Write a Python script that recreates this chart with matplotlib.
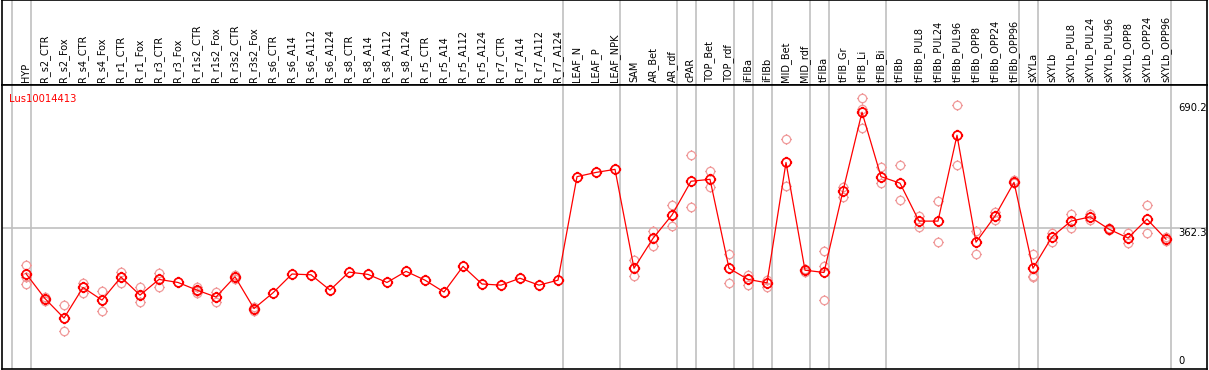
import matplotlib
matplotlib.use("Agg")
import matplotlib.pyplot as plt
from matplotlib.path import Path
import numpy as np

labels = ["HYP",
    "R_s2_CTR", "R_s2_Fox", "R_s4_CTR", "R_s4_Fox", "R_r1_CTR", "R_r1_Fox",
    "R_r3_CTR", "R_r3_Fox", "R_r1s2_CTR", "R_r1s2_Fox", "R_r3s2_CTR", "R_r3s2_Fox",
    "R_s6_CTR", "R_s6_A14", "R_s6_A112", "R_s6_A124", "R_s8_CTR", "R_s8_A14",
    "R_s8_A112", "R_s8_A124", "R_r5_CTR", "R_r5_A14", "R_r5_A112", "R_r5_A124",
    "R_r7_CTR", "R_r7_A14", "R_r7_A112", "R_r7_A124",
    "LEAF_N", "LEAF_P", "LEAF_NPK", "SAM", "AR_Bet", "AR_rdf", "cPAR",
    "TOP_Bet", "TOP_rdf", "iFIBa", "iFIBb", "MID_Bet", "MID_rdf", "tFIBa",
    "tFIB_Gr", "tFIB_Li", "tFIB_Bi", "tFIBb", "tFIBb_PUL8", "tFIBb_PUL24",
    "tFIBb_PUL96", "tFIBb_OPP8", "tFIBb_OPP24", "tFIBb_OPP96", "sXYLa", "sXYLb",
    "sXYLb_PUL8", "sXYLb_PUL24", "sXYLb_PUL96", "sXYLb_OPP8", "sXYLb_OPP24",
    "sXYLb_OPP96"]

# number of columns in each tissue group (separated by grey lines)
group_sizes = [1, 28, 3, 3, 1, 2, 1, 1, 2, 1, 3, 7, 1, 7]

means = [244, 179, 128, 208, 175, 235, 188, 229, 221, 201, 183, 236, 153,
         194, 243, 241, 201, 248, 242, 221, 250, 227, 196, 263, 217,
         214, 232, 214, 227,
         497, 508, 516, 258, 336, 397, 485, 490, 258, 229, 220, 534, 253, 247,
         460, 665, 497, 480, 381, 381, 605, 326, 394, 482, 258, 340,
         381, 392, 360, 337, 386, 334]

reps = [[267, 236, 216], [184, 177, 173], [161, 94, 128], [219, 194, 210],
        [200, 146, 175], [248, 220, 235], [208, 169, 188], [246, 210, 230], [],
        [210, 194, 199], [195, 170, 183], [241, 231, 236], [158, 147, 152],
        [], [], [], [], [], [], [], [], [], [], [], [], [], [], [], [],
        [], [], [], [280, 238], [355, 317], [422, 369], [553, 417],
        [512, 471], [295, 220], [241, 215], [227, 210], [596, 472], [256, 247],
        [302, 264, 175], [471, 443], [701, 673, 623], [521, 480], [527, 436],
        [394, 366], [433, 327], [683, 527], [355, 295], [406, 384], [488, 480],
        [295, 238, 236], [350, 327], [399, 364], [400, 384], [362, 358],
        [350, 323], [422, 349], [340, 328]]

ref_vals = [690.2, 362.3, 0]

# circle marker with little ticks, like the original pixel markers
circ = Path.unit_circle()
ticks = Path([(0, 1), (0, 1.3), (0, -1), (0, -1.3), (1, 0), (1.3, 0), (-1, 0), (-1.3, 0)],
             [Path.MOVETO, Path.LINETO] * 4)
mk = Path.make_compound_path(circ, ticks)

W, H = 1209, 370
fig = plt.figure(figsize=(W / 100, H / 100), dpi=100)
x0, x1 = 2, 1207
col0, step = 26, 19.0
xlim = ((x0 - col0) / step, (x1 - col0) / step)

ax_h = fig.add_axes([x0 / W, (H - 85) / H, (x1 - x0) / W, 85 / H])
ax = fig.add_axes([x0 / W, (H - 369) / H, (x1 - x0) / W, (369 - 85) / H])

x = np.arange(len(labels))
bounds = np.concatenate([[0], np.cumsum(group_sizes)]) - 0.75

for a in (ax_h, ax):
    a.set_xlim(*xlim)
    a.set_xticks([])
    a.set_yticks([])
    for s in a.spines.values():
        s.set_color("black")
        s.set_linewidth(1.2)
    for b in bounds:
        a.axvline(b, color="#c0c0c0", lw=1.2, zorder=0)

ax_h.set_ylim(0, 1)
for xi, lab in zip(x, labels):
    ax_h.text(xi, 0.03, lab, rotation=90, ha="center", va="bottom",
              fontsize=7.0, family="DejaVu Sans", color="black")

ax.set_ylim(-4.7, 736)
ax.axhline(362.3, color="#c0c0c0", lw=1.2, zorder=0)

for xi, r in zip(x, reps):
    if r:
        ax.plot([xi] * len(r), r, ls="none", marker=mk, ms=7.8, mfc="none",
                mec="#f09a9a", mew=0.9, zorder=2)
ax.plot(x, means, color="red", lw=0.9, zorder=3)
ax.plot(x, means, ls="none", marker=mk, ms=8.2, mfc="none", mec="red",
        mew=1.25, zorder=4)

ax.text(0.0058, 0.97, "Lus10014413", transform=ax.transAxes, color="red",
        fontsize=7.2, ha="left", va="top")

lx = (1178 - col0) / step
ax.text(lx, ref_vals[0], "%.1f" % ref_vals[0], fontsize=7.2, ha="left", va="top")
ax.text(lx, ref_vals[1], "%.1f" % ref_vals[1], fontsize=7.2, ha="left", va="top")
ax.text(lx, ref_vals[2] + 2, "%d" % ref_vals[2], fontsize=7.2, ha="left", va="bottom")

fig.savefig("out.png", dpi=100, facecolor="white")
